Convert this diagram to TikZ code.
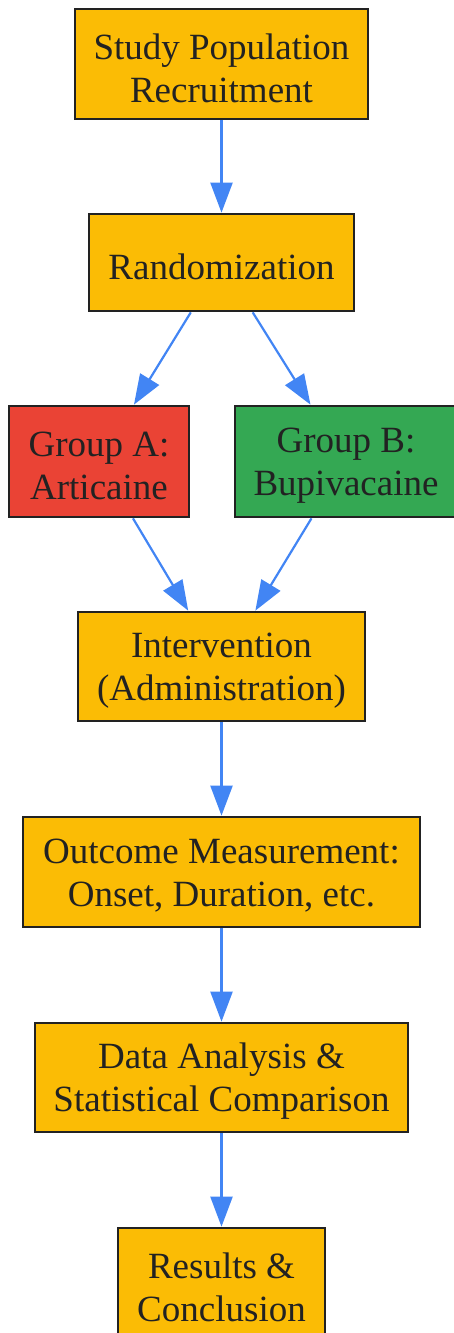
\documentclass[tikz,border=0pt]{standalone}
\usepackage{fontspec}
\setmainfont{Liberation Serif}
\usetikzlibrary{arrows.meta}
\definecolor{boxorange}{HTML}{FBBC05}
\definecolor{boxred}{HTML}{EA4335}
\definecolor{boxgreen}{HTML}{34A853}
\definecolor{edgeblue}{HTML}{4285F4}
\definecolor{inkgray}{HTML}{222222}
\begin{document}
\begin{tikzpicture}[x=1pt,y=-1pt,
  box/.style={draw=inkgray, line width=2.7pt, inner sep=0pt},
  lab/.style={align=center, text=inkgray, inner sep=0pt, yshift=-4pt,
    font=\fontsize{37}{43}\selectfont},
  flow/.style={draw=edgeblue, line width=2.2pt,
    -{Triangle[length=30pt,width=22pt]}, edgeblue}]
\useasboundingbox (0,0) rectangle (454,1333);
\node[box, fill=boxorange, minimum width=293pt, minimum height=110pt,
  label={[lab]center:{Study Population\\Recruitment}}] (n1) at (221.5,64) {};
\node[box, fill=boxorange, minimum width=265pt, minimum height=97pt,
  label={[lab]center:{Randomization}}] (n2) at (221.5,262.5) {};
\node[box, fill=boxred, minimum width=180pt, minimum height=111pt,
  label={[lab]center:{Group A:\\Articaine}}] (ga) at (99,461.5) {};
\node[box, fill=boxgreen, minimum width=222pt, minimum height=111pt,
  label={[lab]center:{Group B:\\Bupivacaine}}] (gb) at (346,461.5) {};
\node[box, fill=boxorange, minimum width=287pt, minimum height=109pt,
  label={[lab]center:{Intervention\\(Administration)}}] (n5) at (221.5,666.5) {};
\node[box, fill=boxorange, minimum width=397pt, minimum height=110pt,
  label={[lab]center:{Outcome Measurement:\\Onset, Duration, etc.}}] (n6) at (221.5,872) {};
\node[box, fill=boxorange, minimum width=373pt, minimum height=109pt,
  label={[lab]center:{Data Analysis \&\\Statistical Comparison}}] (n7) at (221.5,1077.5) {};
\node[box, fill=boxorange, minimum width=207pt, minimum height=110pt,
  label={[lab]center:{Results \&\\Conclusion}}] (n8) at (221.5,1283) {};
\draw[flow] (n1) -- (n2);
\draw[flow] (n2) -- (ga);
\draw[flow] (n2) -- (gb);
\draw[flow] (ga) -- (n5);
\draw[flow] (gb) -- (n5);
\draw[flow] (n5) -- (n6);
\draw[flow] (n6) -- (n7);
\draw[flow] (n7) -- (n8);
\end{tikzpicture}
\end{document}
